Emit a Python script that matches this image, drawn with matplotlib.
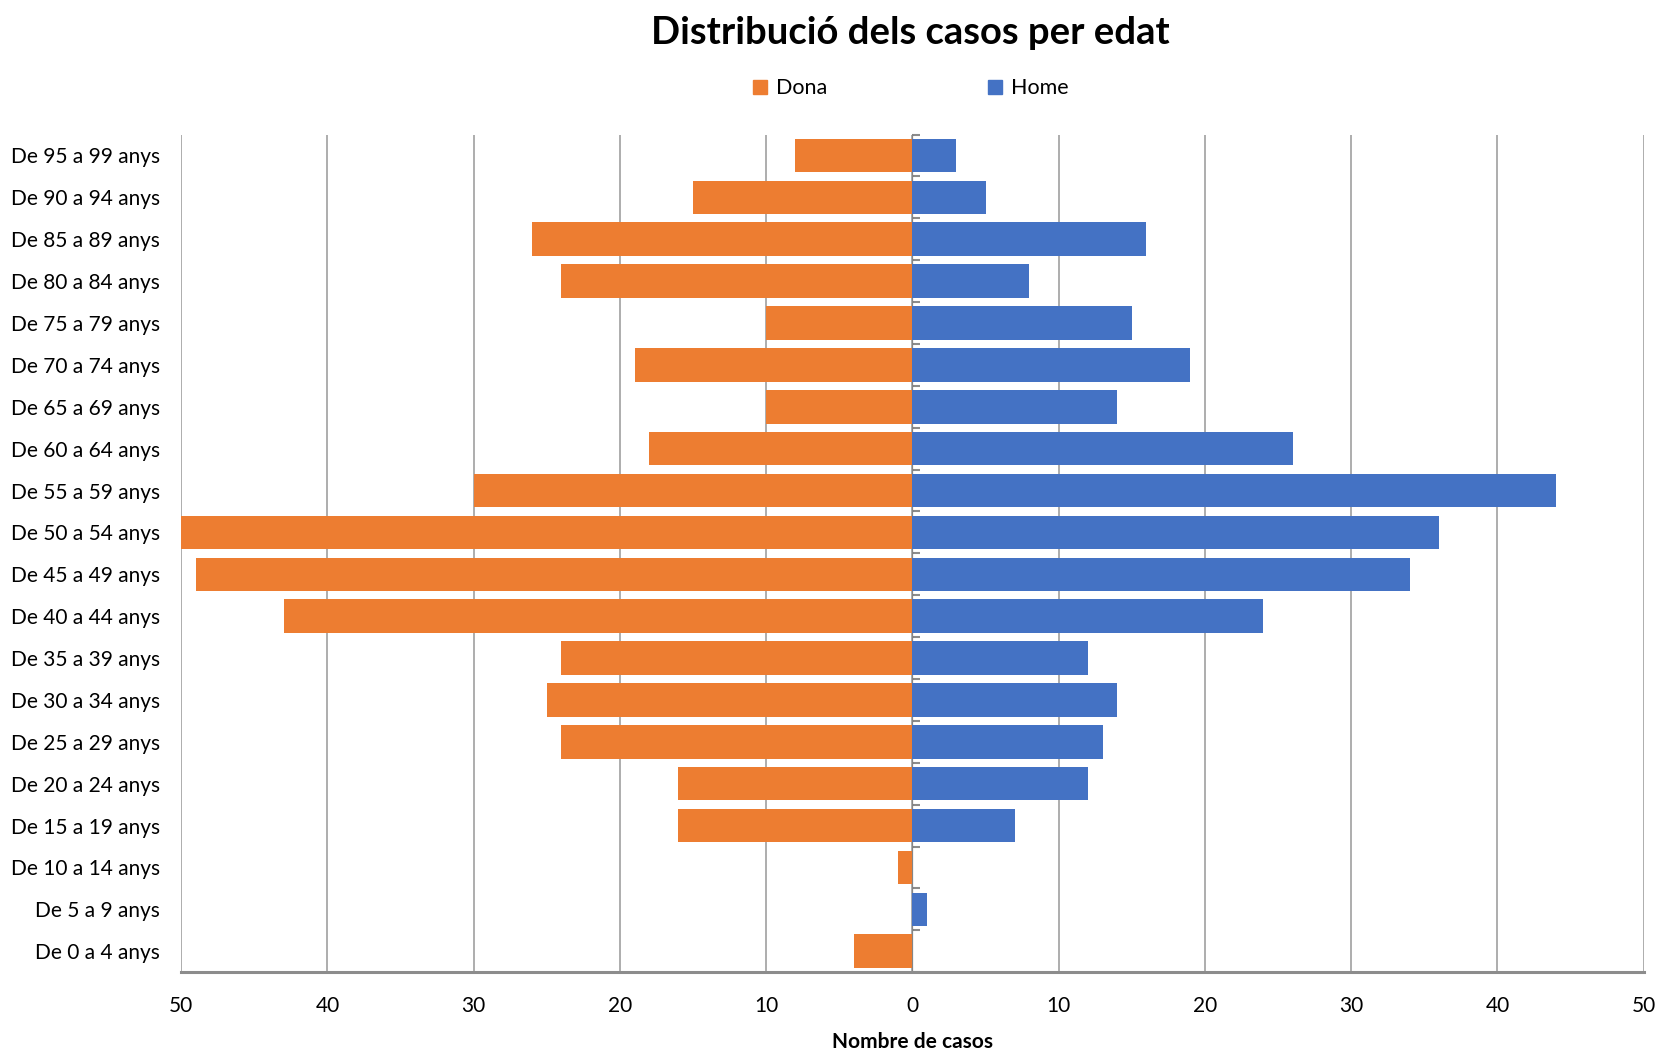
import matplotlib
matplotlib.use("Agg")
import matplotlib.pyplot as plt
from matplotlib.patches import Patch
import numpy as np

categories = ["De 0 a 4 anys", "De 5 a 9 anys", "De 10 a 14 anys", "De 15 a 19 anys",
              "De 20 a 24 anys", "De 25 a 29 anys", "De 30 a 34 anys", "De 35 a 39 anys",
              "De 40 a 44 anys", "De 45 a 49 anys", "De 50 a 54 anys", "De 55 a 59 anys",
              "De 60 a 64 anys", "De 65 a 69 anys", "De 70 a 74 anys", "De 75 a 79 anys",
              "De 80 a 84 anys", "De 85 a 89 anys", "De 90 a 94 anys", "De 95 a 99 anys"]
dona = [4, 0, 1, 16, 16, 24, 25, 24, 43, 49, 50, 30, 18, 10, 19, 10, 24, 26, 15, 8]
home = [0, 1, 0, 7, 12, 13, 14, 12, 24, 34, 36, 44, 26, 14, 19, 15, 8, 16, 5, 3]
xticks = [-50, -40, -30, -20, -10, 0, 10, 20, 30, 40, 50]
xticklabels = ["50", "40", "30", "20", "10", "0", "10", "20", "30", "40", "50"]

plt.rcParams['font.family'] = ['Lato', 'DejaVu Sans']

fig = plt.figure(figsize=(16.62, 10.51), dpi=100)
ax = fig.add_axes([0.109, 0.075, 0.880, 0.797])

y = np.arange(len(categories))
orange = "#ED7D31"
blue = "#4472C4"
ax.barh(y, [-v for v in dona], height=0.8, color=orange, zorder=3)
ax.barh(y, home, height=0.8, color=blue, zorder=3)

ax.set_xlim(-50, 50)
ax.set_ylim(-0.5, len(categories) - 0.5)
ax.set_xticks(xticks)
ax.set_xticklabels(xticklabels, fontsize=15)
ax.tick_params(axis='x', length=0, pad=17)
ax.set_yticks(y)
ax.set_yticklabels(categories, fontsize=15)
ax.tick_params(axis='y', length=0, pad=15)

ax.grid(axis='x', color='#A0A0A0', linewidth=1.2, zorder=0)
for s in ['top', 'right', 'left']:
    ax.spines[s].set_visible(False)
ax.spines['bottom'].set_color('#8C8C8C')
ax.spines['bottom'].set_linewidth(2.2)
ax.spines['bottom'].set_zorder(4)

sec = ax.secondary_yaxis(0.5)
sec.set_yticks([])
sec.set_yticks(np.arange(len(categories) + 1) - 0.5, minor=True)
sec.tick_params(which='minor', length=6, width=1.5, color='#8C8C8C', direction='out')
sec.tick_params(which='major', length=0)
sec.spines['left'].set_color('#8C8C8C')
sec.spines['left'].set_linewidth(1.5)
sec.set_yticklabels([], minor=True)

ax.set_xlabel("Nombre de casos", fontsize=15, fontweight='bold', labelpad=12)

fig.text(0.548, 0.969, "Distribució dels casos per edat", ha='center', va='center',
         fontsize=27.5, fontweight='bold')

handles = [Patch(color=orange, label="Dona"), Patch(color=blue, label="Home")]
fig.legend(handles=handles, loc='center', bbox_to_anchor=(0.548, 0.916), ncol=2,
           frameon=False, fontsize=15.5, handlelength=0.65, handleheight=0.65,
           handletextpad=0.4, columnspacing=7.5)

fig.savefig("out.png", dpi=100)
